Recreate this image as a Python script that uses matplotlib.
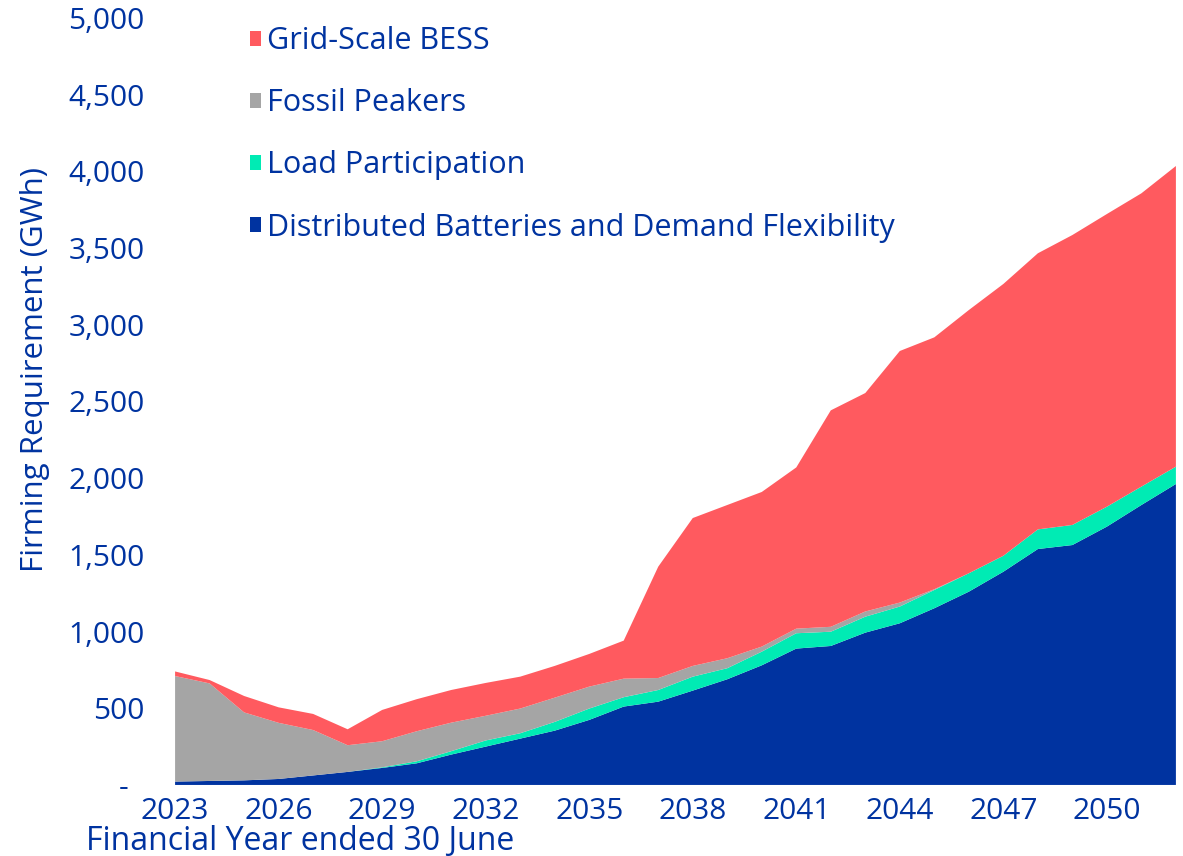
import matplotlib
matplotlib.use("Agg")
import matplotlib.pyplot as plt
from matplotlib.patches import Patch
from matplotlib.ticker import FuncFormatter

years = list(range(2023, 2053))
distributed = [22, 26, 30, 39, 62, 85, 111, 141, 198, 250, 302, 354, 424, 511, 543,
               615, 689, 780, 889, 906, 993, 1054, 1152, 1260, 1390, 1538, 1564, 1684, 1825, 1962]
load_participation = [0, 0, 0, 0, 0, 0, 4, 13, 22, 40, 35, 57, 74, 61, 76,
                      91, 72, 89, 100, 93, 104, 109, 119, 120, 104, 128, 131, 130, 120, 113]
fossil_peakers = [688, 636, 443, 366, 296, 174, 170, 196, 186, 161, 161, 158, 143, 121, 78,
                  70, 65, 33, 30, 32, 34, 26, 5, 0, 0, 0, 0, 0, 0, 0]
grid_bess = [30, 22, 107, 101, 105, 104, 204, 209, 213, 214, 208, 207, 213, 248, 726,
             964, 999, 1008, 1051, 1411, 1424, 1640, 1642, 1716, 1772, 1800, 1890, 1908, 1912, 1960]

labels = ["Distributed Batteries and Demand Flexibility", "Load Participation",
          "Fossil Peakers", "Grid-Scale BESS"]
colors = ["#0033A0", "#00EBB4", "#A5A5A5", "#FF5A5F"]
xticks = list(range(2023, 2051, 3))
yticks = list(range(0, 5001, 500))

plt.rcParams['font.family'] = ['Open Sans', 'DejaVu Sans']
TXT = "#0033A0"

fig = plt.figure(figsize=(11.83, 8.56), dpi=100)
ax = fig.add_axes([0.148, 0.083, 0.846, 0.896])

ax.stackplot(years, distributed, load_participation, fossil_peakers, grid_bess,
             colors=colors, labels=labels, linewidth=0)

ax.set_xlim(2023, 2052)
ax.set_ylim(0, 5000)
ax.set_xticks(xticks)
ax.set_yticks(yticks)
ax.yaxis.set_major_formatter(FuncFormatter(lambda v, p: "-  " if v == 0 else f"{int(v):,}"))
for s in ax.spines.values():
    s.set_visible(False)
ax.tick_params(axis='both', length=0, labelsize=21.5, labelcolor=TXT)
ax.tick_params(axis='y', pad=22)
ax.tick_params(axis='x', pad=9)

fig.text(0.2536, 0.007, "Financial Year ended 30 June", fontsize=23, color=TXT,
         ha='center', va='baseline')
fig.text(0.03, 0.568, "Firming Requirement (GWh)", fontsize=22.5, color=TXT,
         rotation=90, ha='center', va='center')

handles = [Patch(facecolor=c, edgecolor='none') for c in colors][::-1]
leg = ax.legend(handles, labels[::-1], loc='upper left', bbox_to_anchor=(0.047, 1.025),
                frameon=False, fontsize=22, handlelength=0.38, handleheight=0.38,
                handletextpad=0.2, labelspacing=1.05)
for t in leg.get_texts():
    t.set_color(TXT)

fig.savefig("out.png", dpi=100)
